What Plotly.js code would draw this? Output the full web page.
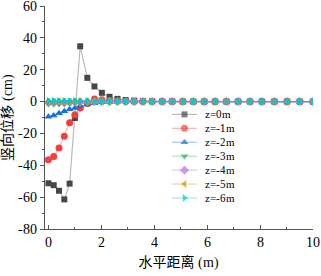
<!DOCTYPE html>
<html><head><meta charset="utf-8">
<script src="https://cdn.plot.ly/plotly-3.0.1.min.js"></script>
<style>
@font-face{font-family:'RefSerif';src:local('Liberation Serif'),local('LiberationSerif'),local('Liberation Serif Regular'),local('LiberationSerif-Regular');}
html,body{margin:0;padding:0;background:#fff}#c{width:321px;height:276px}
</style>
</head><body><div id="c"></div>
<script>
const xDist = [0,0.2,0.4,0.6,0.8,1.0,1.2,1.47,1.74,2.02,2.31,2.61,2.92,3.24,3.57,3.92,4.3,4.68,5.08,5.48,5.89,6.3,6.73,7.17,7.62,8.07,8.54,9.02,9.5,10];
const z0 = [-51.3,-52.5,-56,-61.4,-51.5,-10.3,34.7,14.9,9.5,5.5,3.0,1.7,1.0,0.6,0.3,0.2,0.1,0.1,0,0,0,0,0,0,0,0,0,0,0,0];
const z1 = [-36.6,-34.5,-29.2,-21.8,-13.3,-8.2,-4.0,-1.2,1.6,1.2,0.6,0.3,0.2,0.1,0,0,0,0,0,0,0,0,0,0,0,0,0,0,0,0];
const z2 = [-9.5,-8.8,-7.4,-6.1,-4.8,-4.0,-2.8,-1.9,-1.1,-0.5,-0.2,-0.1,0,0,0,0,0,0,0,0,0,0,0,0,0,0,0,0,0,0];
const z3 = [-1.5,-1.5,-1.4,-1.3,-1.1,-0.9,-0.6,-0.4,-0.2,-0.1,0,0,0,0,0,0,0,0,0,0,0,0,0,0,0,0,0,0,0,0];
const z4 = [-0.6,-0.6,-0.5,-0.5,-0.4,-0.3,-0.2,-0.1,0,0,0,0,0,0,0,0,0,0,0,0,0,0,0,0,0,0,0,0,0,0];
const z5 = [-0.2,-0.2,-0.2,-0.2,-0.1,-0.1,-0.1,0,0,0,0,0,0,0,0,0,0,0,0,0,0,0,0,0,0,0,0,0,0,0];
const z6 = [0.3,0.3,0.3,0.3,0.3,0.3,0.2,0.2,0.1,0.1,0,0,0,0,0,0,0,0,0,0,0,0,0,0,0,0,0,0,0,0];
const seriesNames = ['z=0m','z=-1m','z=-2m','z=-3m','z=-4m','z=-5m','z=-6m'];
const seriesData = [z0,z1,z2,z3,z4,z5,z6];
const markerColors = ['#474747','#F14040','#1A6FDF','#37AD6B','#B177DE','#CC9900','#00CBCC'];
const lineColors = ['rgba(81,81,81,0.4)','rgba(241,64,64,0.4)','rgba(26,111,223,0.4)','rgba(55,173,107,0.4)','rgba(177,119,222,0.4)','rgba(204,153,0,0.4)','rgba(0,203,204,0.4)'];
const symbols = ['square','circle','triangle-up','triangle-down','diamond','triangle-left','triangle-right'];
const sizes = [6,7,7,7,7,7,7];
const xTicks = [0,2,4,6,8,10];
const yTicks = [-80,-60,-40,-20,0,20,40,60];

const F = "RefSerif, 'Liberation Serif', 'Noto Sans CJK SC', serif";

const traces = seriesData.map((y,i)=>({
  x: xDist, y: y, name: seriesNames[i], type:'scatter', mode:'lines+markers',
  line:{color: lineColors[i], width:1.2}, showlegend:false,
  marker:{symbol: symbols[i], color: markerColors[i], size: sizes[i], line:{width:0}}
}));

const LEG = {x0:0.474, x1:0.567, tx:0.59, top:0.514, step:0.0625};
const annotations = [];
seriesNames.forEach((nm,i)=>{
  const yy = LEG.top - i*LEG.step;
  traces.push({
    x:[LEG.x0,(LEG.x0+LEG.x1)/2,LEG.x1], y:[yy,yy,yy], xaxis:'x2', yaxis:'y2',
    type:'scatter', mode:'lines+markers', showlegend:false, hoverinfo:'skip',
    line:{color: lineColors[i], width:1.2},
    marker:{symbol: symbols[i], color: markerColors[i], size:[0,sizes[i],0], line:{width:0}}
  });
  annotations.push({xref:'x2', yref:'y2', x:LEG.tx, y:yy, text:nm, showarrow:false,
    xanchor:'left', yanchor:'middle', font:{family:F, size:11, color:'#000'}});
});

const layout = {
  width:321, height:276,
  margin:{l:45, r:8, t:6, b:47},
  paper_bgcolor:'#fff', plot_bgcolor:'#fff',
  font:{family:F, size:14, color:'#000'},
  showlegend:false,
  annotations: annotations,
  xaxis:{range:[-0.13,10], tickvals:xTicks, ticktext:xTicks.map(String), showgrid:false, zeroline:false,
    showline:true, linecolor:'#555', linewidth:1, ticks:'inside', ticklen:4, tickcolor:'#555',
    ticklabeloverflow:'allow', tickfont:{family:F,size:14,color:'#000'},
    minor:{dtick:1, ticks:'inside', ticklen:2, tickcolor:'#555'},
    title:{text:'水平距离 (m)', font:{family:F,size:14}, standoff:8}},
  yaxis:{range:[-80,60], tickvals:yTicks, ticktext:yTicks.map(String), showgrid:false, zeroline:false,
    showline:true, linecolor:'#555', linewidth:1, ticks:'outside', ticklen:4, tickcolor:'#555',
    ticklabeloverflow:'allow', tickfont:{family:F,size:14,color:'#000'},
    minor:{dtick:10, ticks:'outside', ticklen:2, tickcolor:'#555'},
    title:{text:'竖向位移 (cm)', font:{family:F,size:14}, standoff:4}},
  xaxis2:{overlaying:'x', range:[0,1], visible:false, fixedrange:true},
  yaxis2:{overlaying:'y', range:[0,1], visible:false, fixedrange:true}
};
Plotly.newPlot('c', traces, layout, {staticPlot:true, displayModeBar:false});
</script></body></html>
